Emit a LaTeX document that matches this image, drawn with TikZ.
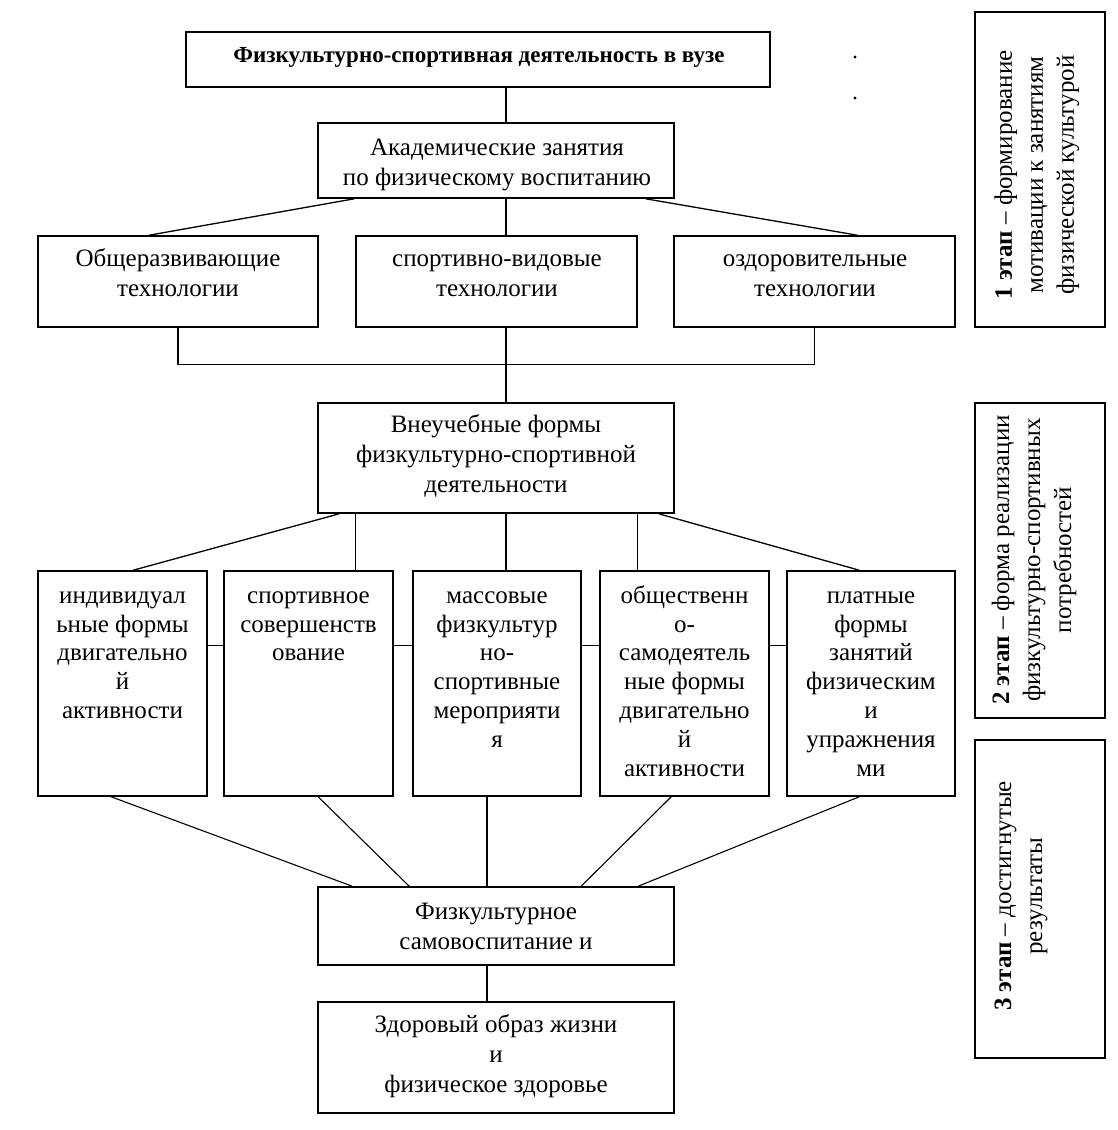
\documentclass[tikz,border=0pt]{standalone}
\usepackage{fontspec}
\setmainfont{Liberation Serif}
\newcommand{\ls}{\strut}
\begin{document}
\begin{tikzpicture}[x=1pt,y=-1pt,
  box/.style={draw, rectangle, inner sep=0pt, line width=1.6pt},
  txt/.style={font=\fontsize{25}{30}\selectfont, align=center, inner sep=0pt},
  txtc/.style={font=\fontsize{25}{28.8}\selectfont, align=center, inner sep=0pt, anchor=north},
  ttl/.style={font=\fontsize{23}{27}\selectfont\bfseries, align=center, inner sep=0pt},
  stg/.style={font=\fontsize{25}{31}\selectfont, align=center, inner sep=0pt, rotate=90},
  conn/.style={line width=1.3pt},
  thin/.style={line width=1.1pt}]
\useasboundingbox (0,0) rectangle (1117,1130);
\fill[white] (0,0) rectangle (1117,1130);

% ---- boxes ----
\node[box, minimum width=584pt, minimum height=55pt] (top) at (478,59.5) {};
\node[box, minimum width=356pt, minimum height=75pt] (acad) at (496,160.5) {};
\node[box, minimum width=280pt, minimum height=91pt] (r2a) at (178,281.5) {};
\node[box, minimum width=281pt, minimum height=91pt] (r2b) at (496.5,281.5) {};
\node[box, minimum width=281pt, minimum height=91pt] (r2c) at (814.5,281.5) {};
\node[box, minimum width=356pt, minimum height=110pt] (vne) at (496,458) {};
\node[box, minimum width=169pt, minimum height=225pt] (b1) at (122.5,683.5) {};
\node[box, minimum width=169pt, minimum height=225pt] (b2) at (308.5,683.5) {};
\node[box, minimum width=168pt, minimum height=225pt] (b3) at (497,683.5) {};
\node[box, minimum width=169pt, minimum height=225pt] (b4) at (684.5,683.5) {};
\node[box, minimum width=168pt, minimum height=225pt] (b5) at (871,683.5) {};
\node[box, minimum width=356pt, minimum height=78pt] (fiz) at (496,926) {};
\node[box, minimum width=356pt, minimum height=111pt] (zdr) at (496,1057.5) {};
\node[box, minimum width=130pt, minimum height=315pt] (s1) at (1040,169.5) {};
\node[box, minimum width=130pt, minimum height=315pt] (s2) at (1040,560.5) {};
\node[box, minimum width=130pt, minimum height=318pt] (s3) at (1040,899) {};

% ---- texts ----
\node[ttl] (ttop) at (479,57) {Физкультурно-спортивная деятельность в вузе};
\node[txt] (tacad) at (497,164) {\ls Академические занятия\\\ls по физическому воспитанию};
\node[txt] (tr2a) at (178,275) {\ls Общеразвивающие\\\ls технологии};
\node[txt] (tr2b) at (497,275) {\ls спортивно-видовые\\\ls технологии};
\node[txt] (tr2c) at (815,275) {\ls оздоровительные\\\ls технологии};
\node[txt] (tvne) at (496,456) {\ls Внеучебные формы\\\ls физкультурно-спортивной\\\ls деятельности};
\node[txtc] (tb1) at (122.5,583) {\ls индивидуал\\ьные формы\\двигательно\\й\\активности};
\node[txtc] (tb2) at (308.5,583) {\ls спортивное\\совершенств\\ование};
\node[txtc] (tb3) at (497,583) {\ls массовые\\физкультур\\но-\\спортивные\\мероприяти\\я};
\node[txtc] (tb4) at (684.5,583) {\ls общественн\\о-\\самодеятель\\ные формы\\двигательно\\й\\активности};
\node[txtc] (tb5) at (871,583) {\ls платные\\формы\\занятий\\физическим\\и\\упражнения\\ми};
\node[txt] (tfiz) at (496,928) {\ls Физкультурное\\\ls самовоспитание и};
\node[txt] (tzdr) at (496,1056) {\ls Здоровый образ жизни\\\ls и\\\ls физическое здоровье};
\node[stg] (ts1) at (1037,175) {\textbf{1 этап} – формирование\\мотивации к занятиям\\физической культурой};
\node[stg] (ts2) at (1034,560) {\textbf{2 этап} – форма реализации\\физкультурно-спортивных\\потребностей};
\node[stg] (ts3) at (1021,896) {\textbf{3 этап} – достигнутые\\результаты};

% ---- dots ----
\fill (855,57) circle (1.6pt);
\fill (855,98) circle (1.6pt);

% ---- connectors ----
\coordinate (ma) at (506,0);
\coordinate (mb) at (487,0);
\draw[conn] (top.south -| ma) -- (acad.north -| ma);
\draw[conn] ([xshift=37pt]acad.south west) -- ([xshift=112pt]r2a.north west);
\draw[conn] (acad.south -| ma) -- (r2b.north -| ma);
\draw[conn] ([xshift=-29pt]acad.south east) -- ([xshift=184pt]r2c.north west);
\draw[conn] (r2a.south) -- ++(0,37) -| (r2c.south);
\draw[conn] (r2b.south -| ma) -- (vne.north -| ma);

\draw[conn] ([xshift=22pt]vne.south west) -- ([xshift=96pt]b1.north west);
\draw[conn] ([xshift=38pt]vne.south west) -- ([xshift=38pt]vne.south west |- b2.north);
\draw[conn] (vne.south -| ma) -- (b3.north -| ma);
\draw[conn] ([xshift=-37pt]vne.south east) -- ([xshift=-37pt]vne.south east |- b4.north);
\draw[conn] ([xshift=-16pt]vne.south east) -- ([xshift=73pt]b5.north west);

\draw[conn] ([yshift=38pt]b1.east) -- ([yshift=38pt]b2.west);
\draw[conn] ([yshift=38pt]b2.east) -- ([yshift=38pt]b3.west);
\draw[conn] ([yshift=38pt]b3.east) -- ([yshift=38pt]b4.west);
\draw[conn] ([yshift=38pt]b4.east) -- ([yshift=38pt]b5.west);

\draw[thin] ([xshift=74pt]b1.south west) -- ([xshift=35pt]fiz.north west);
\draw[thin] ([xshift=95pt]b2.south west) -- ([xshift=92pt]fiz.north west);
\draw[conn] (b3.south -| mb) -- (fiz.north -| mb);
\draw[thin] ([xshift=72pt]b4.south west) -- ([xshift=264pt]fiz.north west);
\draw[thin] ([xshift=73pt]b5.south west) -- ([xshift=321pt]fiz.north west);
\draw[conn] (fiz.south -| mb) -- (zdr.north -| mb);
\end{tikzpicture}
\end{document}
